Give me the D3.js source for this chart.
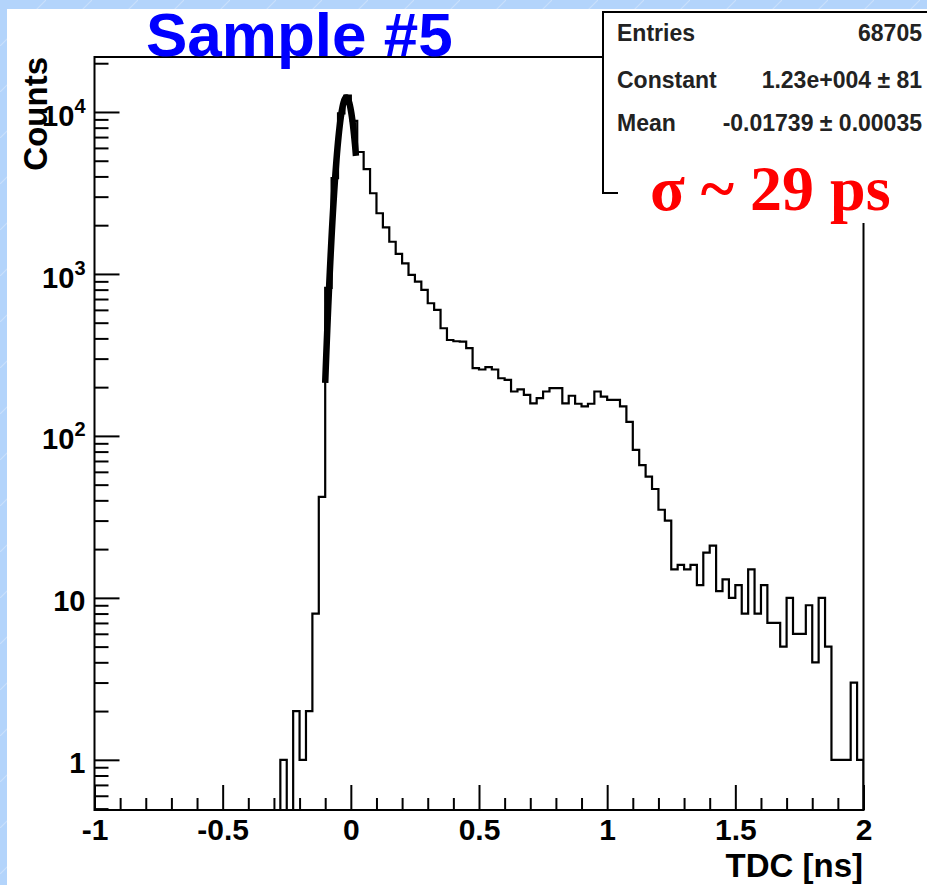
<!DOCTYPE html>
<html>
<head>
<meta charset="utf-8">
<script src="https://cdn.jsdelivr.net/npm/d3@7"></script>
<style>
  html, body { margin: 0; padding: 0; background: #fff; }
  svg { display: block; font-family: "Liberation Sans", Arial, Helvetica, sans-serif; }
</style>
</head>
<body>
<svg id="chart" width="927" height="885"></svg>
<script>
// TDC histogram, 120 bins of 0.025 ns from -1 to 2 ns
const binLow = -1;
const binWidth = 0.025;
const counts = [
  0, 0, 0, 0, 0, 0, 0, 0, 0, 0,
  0, 0, 0, 0, 0, 0, 0, 0, 0, 0,
  0, 0, 0, 0, 0, 0, 0, 0, 0, 1,
  0, 2, 1, 2, 8, 42, 820, 3900, 9800, 12600,
  8800, 5660, 4440, 3150, 2370, 1940, 1580, 1330, 1163, 986,
  897, 797, 659, 600, 462, 391, 384, 382, 348, 262,
  257, 266, 257, 227, 222, 188, 194, 179, 159, 171,
  188, 197, 197, 159, 177, 158, 152, 158, 188, 175,
  167, 167, 152, 122, 82, 66, 56, 47, 35, 30,
  15, 16, 15, 16, 12, 19, 21, 11, 13, 10,
  12, 8, 15, 8, 12, 7, 7, 5, 10, 6,
  6, 9, 4, 10, 5, 1, 1, 1, 3, 1
];

// gaussian fit
const fitRange = [-0.1, 0.02];
const fitConstant = 12300;
const fitMean = -0.01739;
const fitSigma = 0.029;

const xTicks = [-1, -0.5, 0, 0.5, 1, 1.5, 2];
const xTickLabels = ["-1", "-0.5", "0", "0.5", "1", "1.5", "2"];
const yTicks = [1, 10, 100, 1000, 10000];
const yTickBase = ["1", "10", "10", "10", "10"];
const yTickExp = ["", "", "2", "3", "4"];

const statsLabels = ["Entries", "Constant", "Mean"];
const statsValues = ["68705", "1.23e+004 \u00b1 81", "-0.01739 \u00b1 0.00035"];

const svg = d3.select("#chart");

// slide background
const defs = svg.append("defs");
const pat = defs.append("pattern")
  .attr("id", "diag")
  .attr("patternUnits", "userSpaceOnUse")
  .attr("width", 46).attr("height", 46);
pat.append("rect").attr("width", 46).attr("height", 46).attr("fill", "#b3d4fb");
pat.append("path").attr("d", "M0,46 L46,0").attr("stroke", "#c9e0fc").attr("stroke-width", 1.2);

svg.append("rect").attr("width", 927).attr("height", 885).attr("fill", "url(#diag)");
svg.append("rect").attr("x", 7).attr("y", 9).attr("width", 920).attr("height", 876).attr("fill", "#fff");

const frame = { left: 94.5, right: 863.5, top: 57, bottom: 810 };

const x = d3.scaleLinear().domain([-1, 2]).range([frame.left, frame.right]);
const y = d3.scaleLog().domain([0.49, 21850]).range([frame.bottom, frame.top]);

defs.append("clipPath").attr("id", "plotclip")
  .append("rect")
  .attr("x", frame.left).attr("y", frame.top)
  .attr("width", frame.right - frame.left).attr("height", frame.bottom - frame.top);

// histogram outline as steps
const pts = [[binLow, 0]];
counts.forEach((c, i) => {
  const lo = binLow + i * binWidth;
  pts.push([lo, c]);
  pts.push([lo + binWidth, c]);
});
pts.push([binLow + counts.length * binWidth, 0]);

const histLine = d3.line()
  .x(d => x(d[0]))
  .y(d => d[1] > 0 ? y(d[1]) : frame.bottom);

svg.append("path")
  .attr("clip-path", "url(#plotclip)")
  .attr("d", histLine(pts))
  .attr("fill", "none")
  .attr("stroke", "#000")
  .attr("stroke-width", 2.2);

// fit curve (thick)
const fitPts = d3.range(61).map(i => {
  const t = fitRange[0] + (fitRange[1] - fitRange[0]) * i / 60;
  return [t, fitConstant * Math.exp(-0.5 * Math.pow((t - fitMean) / fitSigma, 2))];
});
svg.append("path")
  .attr("clip-path", "url(#plotclip)")
  .attr("d", d3.line().x(d => x(d[0])).y(d => y(d[1]))(fitPts))
  .attr("fill", "none")
  .attr("stroke", "#000")
  .attr("stroke-width", 6.5)
  .attr("stroke-linejoin", "round");

// x axis: major and minor ticks pointing up
const xMinor = d3.range(31).filter(i => i % 5 !== 0).map(i => -1 + i * 0.1);
svg.append("g")
  .attr("transform", `translate(0,${frame.bottom})`)
  .call(d3.axisBottom(x).tickValues(xMinor).tickSize(-12).tickFormat(""))
  .call(g => g.select(".domain").remove())
  .call(g => g.selectAll("line").attr("stroke-width", 2));

const xAxis = svg.append("g")
  .attr("transform", `translate(0,${frame.bottom})`)
  .call(d3.axisBottom(x).tickValues(xTicks).tickSizeInner(-25).tickSizeOuter(0)
    .tickPadding(9).tickFormat((d, i) => xTickLabels[i]))
  .call(g => g.select(".domain").remove());
xAxis.selectAll("line").attr("stroke-width", 2);
xAxis.selectAll("text")
  .attr("font-size", 30).attr("font-weight", "bold").attr("fill", "#000")
  .attr("font-family", "'Liberation Sans', Arial, sans-serif");

// y axis: log ticks pointing right
const yMinor = [];
[-1, 0, 1, 2, 3, 4].forEach(e => {
  for (let m = 2; m <= 9; m++) {
    const v = m * Math.pow(10, e);
    if (v >= 0.49 && v <= 21850) yMinor.push(v);
  }
});
svg.append("g")
  .attr("transform", `translate(${frame.left},0)`)
  .call(d3.axisLeft(y).tickValues(yMinor).tickSize(-14).tickFormat(""))
  .call(g => g.select(".domain").remove())
  .call(g => g.selectAll("line").attr("stroke-width", 2));

const yAxis = svg.append("g")
  .attr("transform", `translate(${frame.left},0)`)
  .call(d3.axisLeft(y).tickValues(yTicks).tickSizeInner(-25).tickSizeOuter(0)
    .tickPadding(9).tickFormat((d, i) => yTickBase[i]))
  .call(g => g.select(".domain").remove());
yAxis.selectAll("line").attr("stroke-width", 2);
yAxis.selectAll("text")
  .attr("font-size", 29).attr("font-weight", "bold").attr("fill", "#000")
  .attr("font-family", "'Liberation Sans', Arial, sans-serif")
  .attr("dy", "0.45em")
  .each(function (d, i) {
    if (yTickExp[i]) {
      d3.select(this).append("tspan")
        .attr("font-size", 20)
        .attr("dy", -13)
        .text(yTickExp[i]);
    }
  });

// frame
svg.append("rect")
  .attr("x", frame.left).attr("y", frame.top)
  .attr("width", frame.right - frame.left).attr("height", frame.bottom - frame.top)
  .attr("fill", "none").attr("stroke", "#000").attr("stroke-width", 2);

// axis titles
svg.append("text")
  .attr("transform", "translate(47,57) rotate(-90)")
  .attr("text-anchor", "end")
  .attr("font-size", 33).attr("font-weight", "bold")
  .text("Counts");

svg.append("text")
  .attr("x", 863).attr("y", 877)
  .attr("text-anchor", "end")
  .attr("font-size", 33).attr("font-weight", "bold")
  .text("TDC [ns]");

// stats box
svg.append("rect")
  .attr("x", 603).attr("y", 12).attr("width", 340).attr("height", 181)
  .attr("fill", "#fff").attr("stroke", "#000").attr("stroke-width", 2);

const rowY = [41, 88, 131];
statsLabels.forEach((lab, i) => {
  svg.append("text")
    .attr("x", 617).attr("y", rowY[i])
    .attr("font-size", 23).attr("font-weight", "bold").attr("fill", "#222")
    .text(lab);
  svg.append("text")
    .attr("x", 922).attr("y", rowY[i])
    .attr("text-anchor", "end")
    .attr("font-size", 23).attr("font-weight", "bold").attr("fill", "#222")
    .text(statsValues[i]);
});

// sigma label on white
svg.append("rect")
  .attr("x", 618).attr("y", 150).attr("width", 309).attr("height", 73)
  .attr("fill", "#fff");
svg.append("text")
  .attr("x", 650).attr("y", 210)
  .style("font-family", "'Liberation Serif', 'Times New Roman', serif")
  .attr("font-size", 64).attr("font-weight", "bold").attr("fill", "#ff0000")
  .text("\u03c3 ~ 29 ps");

// title
svg.append("text")
  .attr("x", 146).attr("y", 56)
  .attr("font-size", 62).attr("font-weight", "bold").attr("fill", "#0000ff")
  .text("Sample #5");
</script>
</body>
</html>
